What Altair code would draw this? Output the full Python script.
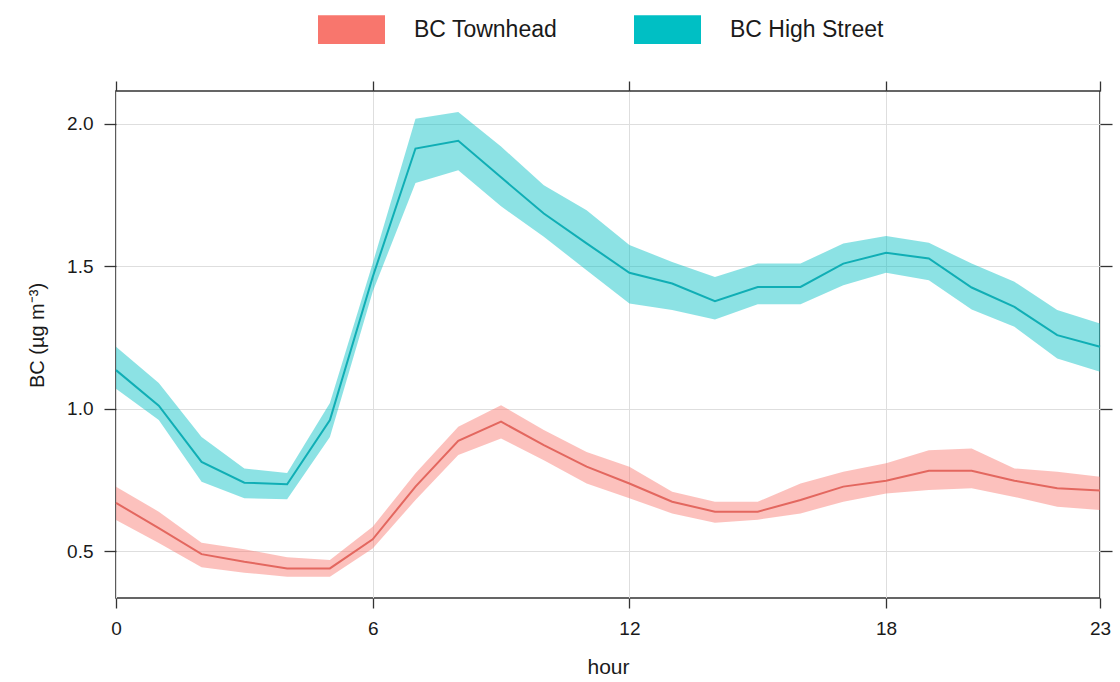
import altair as alt
import pandas as pd

hours = list(range(24))
series_names = ["BC Townhead", "BC High Street"]

town_mean = [0.669, 0.580, 0.489, 0.462, 0.439, 0.439, 0.541, 0.726, 0.887, 0.954, 0.872, 0.796,
             0.737, 0.673, 0.638, 0.638, 0.679, 0.726, 0.747, 0.782, 0.782, 0.747, 0.720, 0.712]
town_lo = [0.609, 0.528, 0.443, 0.424, 0.410, 0.410, 0.509, 0.679, 0.837, 0.895, 0.819, 0.737,
           0.685, 0.632, 0.599, 0.610, 0.632, 0.673, 0.702, 0.714, 0.720, 0.690, 0.655, 0.644]
town_hi = [0.726, 0.638, 0.529, 0.506, 0.478, 0.468, 0.585, 0.773, 0.936, 1.012, 0.925, 0.848,
           0.796, 0.708, 0.673, 0.673, 0.737, 0.778, 0.808, 0.854, 0.860, 0.790, 0.778, 0.761]

high_mean = [1.135, 1.010, 0.813, 0.740, 0.734, 0.960, 1.462, 1.913, 1.940, 1.812, 1.685, 1.580,
             1.477, 1.439, 1.377, 1.427, 1.427, 1.509, 1.547, 1.527, 1.425, 1.357, 1.258, 1.217]
high_lo = [1.070, 0.960, 0.743, 0.685, 0.682, 0.900, 1.410, 1.792, 1.837, 1.710, 1.603, 1.486,
           1.369, 1.346, 1.313, 1.366, 1.366, 1.433, 1.477, 1.451, 1.348, 1.287, 1.176, 1.129]
high_hi = [1.217, 1.090, 0.900, 0.790, 0.774, 1.020, 1.510, 2.018, 2.041, 1.920, 1.784, 1.696,
           1.574, 1.515, 1.462, 1.509, 1.509, 1.580, 1.606, 1.582, 1.509, 1.445, 1.346, 1.299]

x_ticks = [0, 6, 12, 18, 23]
y_ticks = [0.5, 1.0, 1.5, 2.0]

band_colors = ["#F8766D", "#00BFC4"]
line_colors = ["#E3675F", "#10AEB5"]

rows = []
for name, m, lo, hi in [(series_names[0], town_mean, town_lo, town_hi),
                        (series_names[1], high_mean, high_lo, high_hi)]:
    for h, a, b, c in zip(hours, m, lo, hi):
        rows.append({"hour": h, "series": name, "mean": a, "lower": b, "upper": c})
df = pd.DataFrame(rows)

FONT = "Liberation Sans"
TXT = "#1a1a1a"
FRAME = "#333333"

x_scale = alt.Scale(domain=[0, 23], nice=False, zero=False)
y_scale = alt.Scale(domain=[0.335, 2.115], nice=False, zero=False)

base = alt.Chart(df)

band = base.mark_area(opacity=0.45).encode(
    x=alt.X("hour:Q", scale=x_scale,
            axis=alt.Axis(orient="bottom", values=x_ticks, grid=True, gridColor="#dedede",
                          gridWidth=1, domain=False, tickSize=10, tickColor=FRAME,
                          tickWidth=1.3, labelFontSize=19, labelColor=TXT, labelPadding=11,
                          labelFlush=False, title="hour", titleFontSize=21,
                          titleFontWeight="normal", titleColor=TXT, titleX=492, titleY=75,
                          titleBaseline="alphabetic", titleAlign="center")),
    y=alt.Y("lower:Q", scale=y_scale,
            axis=alt.Axis(orient="left", values=y_ticks, format=".1f", grid=True,
                          gridColor="#dedede", gridWidth=1, domain=False, tickSize=12,
                          tickColor=FRAME, tickWidth=1.3, labelFontSize=19, labelColor=TXT,
                          labelPadding=11, title="BC (µg m⁻³)", titleFontSize=20,
                          titleFontWeight="normal", titleColor=TXT, titleX=-73, titleY=244,
                          titleBaseline="alphabetic", titleAlign="center", titleAngle=270)),
    y2="upper:Q",
    color=alt.Color("series:N",
                    scale=alt.Scale(domain=series_names, range=band_colors),
                    sort=series_names,
                    legend=alt.Legend(orient="none", legendX=202, legendY=-95,
                                      direction="horizontal", columns=2, title=None,
                                      symbolType="M-1,-0.43L1,-0.43L1,0.43L-1,0.43Z",
                                      symbolSize=4489, symbolStrokeWidth=0, symbolOpacity=1,
                                      labelFontSize=23, labelColor=TXT, labelOffset=29,
                                      columnPadding=76, padding=0, labelFont=FONT)),
)

line = base.mark_line(strokeWidth=2).encode(
    x=alt.X("hour:Q", scale=x_scale,
            axis=alt.Axis(orient="top", values=x_ticks, grid=False, labels=False, domain=False,
                          tickSize=10, tickColor=FRAME, tickWidth=1.3, title=None)),
    y=alt.Y("mean:Q", scale=y_scale,
            axis=alt.Axis(orient="right", values=y_ticks, grid=False, labels=False,
                          domain=False, tickSize=12, tickColor=FRAME, tickWidth=1.3,
                          title=None)),
    color=alt.Color("series:N",
                    scale=alt.Scale(domain=series_names, range=line_colors),
                    legend=None),
    detail="series:N",
)

chart = alt.layer(band, line).resolve_axis(
    x="independent", y="independent"
).resolve_scale(color="independent").properties(
    width=984, height=507,
    autosize=alt.AutoSizeParams(type="none"),
    padding={"left": 116, "top": 91, "right": 20, "bottom": 84},
    background="white",
).configure(font=FONT).configure_view(stroke=FRAME, strokeWidth=1.6)

chart.save("out.html", embed_options={"renderer": "svg", "actions": False})
